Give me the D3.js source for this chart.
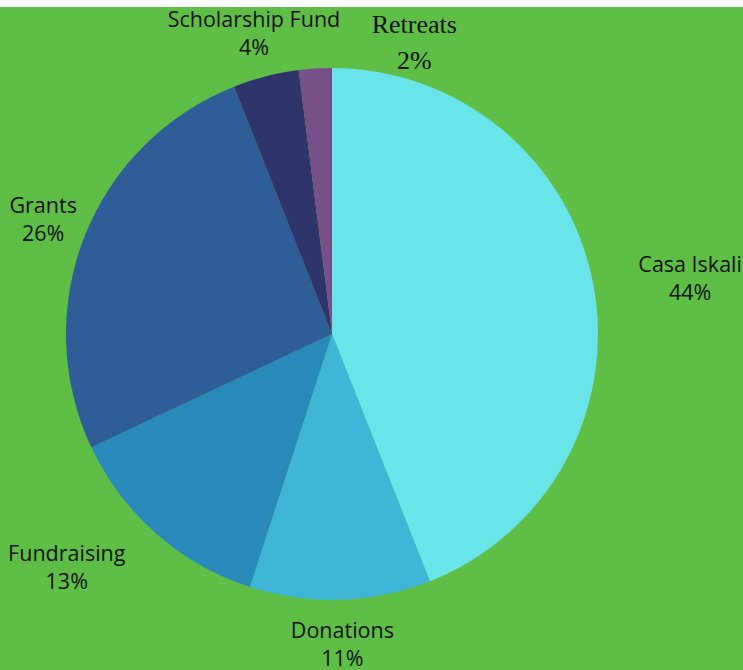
<!DOCTYPE html>
<html>
<head>
<meta charset="utf-8">
<script src="https://cdn.jsdelivr.net/npm/d3@7"></script>
<style>
  body { margin: 0; background: #ffffff; }
  svg { display: block; }
</style>
</head>
<body>
<div class="canvas"></div>
<script>
const categories = ['Casa Iskali', 'Donations', 'Fundraising', 'Grants', 'Scholarship Fund', 'Retreats'];
const values = [44, 11, 13, 26, 4, 2];
const colors = ['#69e5e9', '#40b6d6', '#2a89bb', '#2e5d98', '#2f346b', '#77508a'];

const width = 743;
const height = 670;
const cx = 332;
const cy = 334;
const radius = 266;

// label nudges from the outer label arc centroid (layout only)
const labelNudge = {
    'Casa Iskali': [34, 0],
    'Donations': [0, -26],
    'Fundraising': [-47, -21],
    'Grants': [18, 0],
    'Scholarship Fund': [4, 13],
    'Retreats': [103, 28]
};

const data = categories.map((c, i) => ({name: c, value: values[i]}));

const svg = d3.select('.canvas')
    .append('svg')
    .attr('width', width)
    .attr('height', height);

svg.append('rect')
    .attr('x', 0)
    .attr('y', 7)
    .attr('width', width)
    .attr('height', height - 7)
    .attr('fill', '#5ebe45');

const graph = svg.append('g')
    .attr('transform', `translate(${cx}, ${cy})`);

const color = d3.scaleOrdinal()
    .domain(categories)
    .range(colors);

const pie = d3.pie()
    .sort(null)
    .value(d => d.value);

const arc = d3.arc()
    .innerRadius(0)
    .outerRadius(radius);

const labelArc = d3.arc()
    .innerRadius(330)
    .outerRadius(330);

const arcs = pie(data);

graph.selectAll('path')
    .data(arcs)
    .enter()
    .append('path')
    .attr('d', arc)
    .attr('fill', d => color(d.data.name));

////////// LABELS ///////////////////

const labels = graph.selectAll('g.label')
    .data(arcs)
    .enter()
    .append('g')
    .attr('class', 'label')
    .attr('transform', d => {
        const [x, y] = labelArc.centroid(d);
        const [dx, dy] = labelNudge[d.data.name];
        return `translate(${x + dx}, ${y + dy})`;
    });

labels.each(function(d) {
    const g = d3.select(this);
    const serif = d.data.name === 'Retreats';
    const font = serif ? '"Liberation Serif", "Times New Roman", serif' : '"Open Sans", "Noto Sans", sans-serif';
    const size = serif ? 26 : 21.5;
    const gap = serif ? 36 : 28;
    g.append('text')
        .attr('text-anchor', 'middle')
        .style('font-family', font)
        .style('font-size', size + 'px')
        .attr('fill', '#111')
        .text(d.data.name);
    g.append('text')
        .attr('text-anchor', 'middle')
        .attr('y', gap)
        .style('font-family', font)
        .style('font-size', size + 'px')
        .attr('fill', '#111')
        .text(d.data.value + '%');
});
</script>
</body>
</html>
